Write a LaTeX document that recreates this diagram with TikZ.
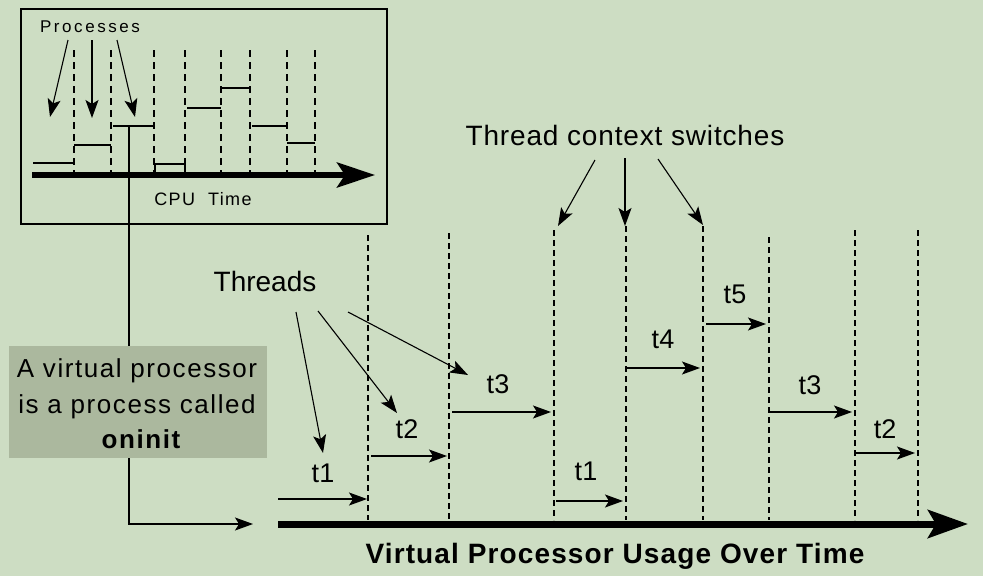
\documentclass[tikz,border=0pt]{standalone}
\usepackage{fontspec}
\setmainfont{Liberation Sans}
\usetikzlibrary{arrows.meta}
\definecolor{bg}{RGB}{205,221,195}
\definecolor{lblfill}{RGB}{171,184,158}
\tikzset{
  thinarrow/.style={line width=1.1pt,-{Stealth[length=18pt,width=13pt,inset=4pt]}},
  vdash/.style={line width=1.2pt,dash pattern=on 6pt off 4pt},
  bdash/.style={line width=1.2pt,dash pattern=on 7pt off 5pt},
  bigaxis/.style={line width=7pt,-{Stealth[length=40pt,width=28pt,inset=8pt]}},
  smallaxis/.style={line width=6pt,-{Stealth[length=38pt,width=25pt,inset=8pt]}},
  level/.style={line width=1.1pt},
  tlabel/.style={anchor=base,inner sep=0pt,font=\fontsize{27pt}{30pt}\selectfont},
  bigtext/.style={anchor=base,inner sep=0pt,font=\fontsize{28pt}{32pt}\selectfont},
  boxtext/.style={anchor=base,inner sep=0pt,font=\fontsize{26pt}{30pt}\selectfont\addfontfeature{LetterSpace=6}},
}
\begin{document}
\begin{tikzpicture}[x=1pt,y=-1pt]
\useasboundingbox (0,0) rectangle (983,576);
\fill[bg] (0,0) rectangle (983,576);

% ---------- CPU box ----------
\node[draw,line width=1.1pt,inner sep=0pt,minimum width=366pt,minimum height=215pt] (cpubox) at (204,116.5) {};
\node[anchor=base,inner sep=0pt,font=\fontsize{17pt}{20pt}\selectfont\addfontfeature{LetterSpace=15}] (proc) at (90,32) {Processes};
\node[anchor=base,inner sep=0pt,font=\fontsize{18pt}{20pt}\selectfont\addfontfeature{LetterSpace=8}] (cputime) at (203,205) {CPU\ \ Time};

\foreach \x in {74,111,154,185,221,250,287,315}
  \draw[bdash] (\x,50) -- (\x,172);

% process levels
\draw[level] (33,163) -- (74,163);
\draw[level] (74,145) -- (111,145);
\draw[level] (113,126) -- (154,126);
\draw[level] (155,172) -- (155,164) -- (185,164) -- (185,172);
\draw[level] (187,108) -- (221,108);
\draw[level] (221,88) -- (250,88);
\draw[level] (252,126) -- (287,126);
\draw[level] (287,143) -- (315,143);

\coordinate (pa1) at (50,117);
\coordinate (pa2) at (92,118);
\coordinate (pa3) at (135,117);
\draw[thinarrow] (68,40) -- (pa1);
\draw[thinarrow] (92,40) -- (pa2);
\draw[thinarrow] (117,40) -- (pa3);

\coordinate (cpustart) at (32,175);
\coordinate (cpuend) at (375,175);
\draw[smallaxis] (cpustart) -- (cpuend);

% ---------- connector to VP ----------
\coordinate (p3) at (129,126);
\coordinate (vpin) at (253,524);
\draw[thinarrow] (p3) -- (p3 |- vpin) -- (vpin);

% ---------- label box ----------
\node[fill=lblfill,inner sep=0pt,minimum width=258pt,minimum height=112pt] (vpbox) at (138,402) {};
\node[boxtext] (l1) at (137,377) {A virtual processor};
\node[boxtext] (l2) at (137,413) {is a process called};
\node[boxtext,font=\fontsize{26pt}{30pt}\selectfont\bfseries\addfontfeature{LetterSpace=6}] (l3) at (141,448) {oninit};

% ---------- main timeline ----------
\foreach \x/\t in {368/235,449/233,554/230,626/226,703/226,769/237,855/230,918/230}
  \draw[vdash] (\x,\t) -- (\x,520);

\coordinate (vpstart) at (278,524);
\coordinate (vpend) at (968,524);
\draw[bigaxis] (vpstart) -- (vpend);

% thread segments
\draw[thinarrow] (278,499) -- (367,499);
\draw[thinarrow] (371,456) -- (447,456);
\draw[thinarrow] (452,412) -- (551,412);
\draw[thinarrow] (556,501) -- (623,501);
\draw[thinarrow] (627,368) -- (700,368);
\draw[thinarrow] (706,324) -- (766,324);
\draw[thinarrow] (770,412) -- (852,412);
\draw[thinarrow] (856,453) -- (915,453);

\node[tlabel] (ta) at (323,482) {t1};
\node[tlabel] (tb) at (407,438) {t2};
\node[tlabel] (tc) at (498,393) {t3};
\node[tlabel] (td) at (586,480) {t1};
\node[tlabel] (te) at (663,348) {t4};
\node[tlabel] (tf) at (735,303) {t5};
\node[tlabel] (tg) at (810,394) {t3};
\node[tlabel] (th) at (885,438) {t2};

% Threads
\node[bigtext] (threads) at (265,291) {Threads};
\draw[thinarrow] (296,312) -- (323,453);
\draw[thinarrow] (318,311) -- (397,413);
\draw[thinarrow] (348,312) -- (468,375);

% Thread context switches
\node[bigtext,font=\fontsize{28pt}{32pt}\selectfont\addfontfeature{LetterSpace=3}] (tcs) at (625,145) {Thread context switches};
\draw[thinarrow] (595,160) -- (558,226);
\draw[thinarrow] (625,158) -- (625,226);
\draw[thinarrow] (658,159) -- (703,225);

% title
\node[bigtext,font=\fontsize{28pt}{32pt}\selectfont\bfseries\addfontfeature{LetterSpace=4}] (title) at (615,563) {Virtual Processor Usage Over Time};
\end{tikzpicture}
\end{document}
